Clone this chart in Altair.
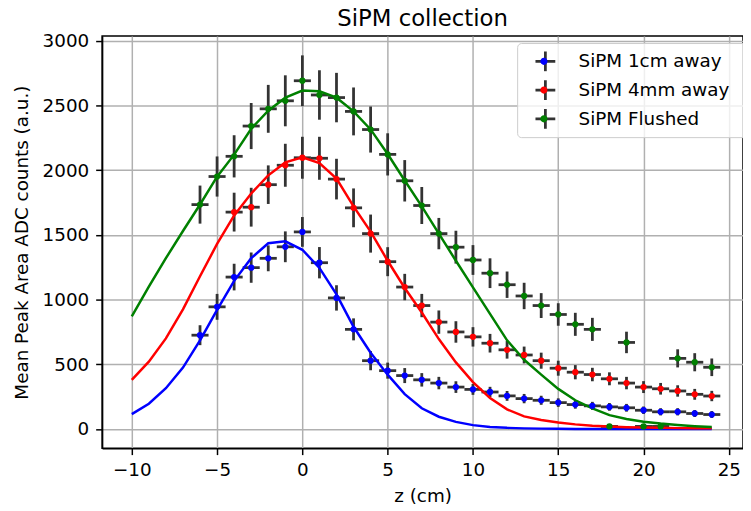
import altair as alt
import pandas as pd

SERIES = ["SiPM 1cm away", "SiPM 4mm away", "SiPM Flushed"]
COLORS = ["#0000ff", "#ff0000", "#008000"]
XERR = 0.5

blue_z = list(range(-6, 25))
blue_v = [725, 944, 1174, 1247, 1319, 1408, 1523, 1285, 1013, 770, 528, 451, 413, 380, 355, 324,
          306, 286, 256, 235, 222, 204, 189, 179, 171, 164, 145, 133, 133, 120, 112]
blue_err = [77, 100, 103, 117, 100, 119, 115, 121, 98, 85, 74, 62, 58, 52, 48, 45,
            42, 40, 38, 36, 35, 33, 32, 31, 30, 30, 29, 28, 28, 27, 27]

red_z = list(range(-4, 25))
red_v = [1676, 1714, 1888, 2038, 2096, 2092, 1931, 1709, 1510, 1293, 1097, 954, 826, 750, 712,
         663, 612, 572, 528, 470, 439, 421, 388, 355, 324, 311, 294, 268, 255]
red_err = [150, 150, 149, 166, 162, 166, 157, 150, 147, 112, 102, 90, 90, 83, 75,
           72, 68, 65, 62, 58, 55, 52, 50, 48, 46, 45, 44, 42, 40]

green_z = list(range(-6, 25))
green_v = [1734, 1951, 2107, 2341, 2474, 2536, 2691, 2581, 2561, 2454, 2314, 2122, 1918, 1727,
           1510, 1405, 1306, 1204, 1115, 1028, 954, 885, 809, 770, 20, 669, 20, 20, 546, 516, 477]
green_err = [147, 155, 163, 178, 185, 197, 196, 191, 191, 185, 178, 163, 160, 143,
             121, 127, 115, 115, 102, 102, 96, 87, 89, 89, 5, 83, 5, 5, 70, 70, 68]

fit_z = list(range(-10, 25))
blue_fit = [115, 195, 315, 475, 685, 920, 1145, 1320, 1435, 1450, 1385, 1245, 1040, 790, 590, 420,
            270, 160, 95, 55, 30, 16, 9, 5, 3, 2, 1, 1, 1, 1, 1, 1, 1, 1, 1]
red_fit = [380, 520, 700, 925, 1180, 1430, 1650, 1820, 1960, 2060, 2100, 2055, 1935, 1720, 1525,
           1300, 1090, 900, 695, 515, 362, 240, 152, 98, 70, 50, 36, 26, 19, 14, 11, 9, 7, 6, 5]
green_fit = [870, 1100, 1320, 1530, 1735, 1950, 2120, 2320, 2460, 2560, 2615, 2610, 2560, 2455,
             2315, 2125, 1920, 1720, 1510, 1300, 1095, 890, 685, 535, 420, 310, 222, 160, 107,
             78, 56, 42, 31, 22, 15]

X_TICKS = [-10, -5, 0, 5, 10, 15, 20, 25]
Y_TICKS = [0, 500, 1000, 1500, 2000, 2500, 3000]

rows = []
for name, zs, vs, es in zip(SERIES, [blue_z, red_z, green_z], [blue_v, red_v, green_v],
                            [blue_err, red_err, green_err]):
    for z, v, e in zip(zs, vs, es):
        rows.append({"series": name, "series2": name, "z": z, "v": v, "lo": v - e, "hi": v + e,
                     "zlo": z - XERR, "zhi": z + XERR})
pts = pd.DataFrame(rows)

fit_rows = []
for name, fv in zip(SERIES, [blue_fit, red_fit, green_fit]):
    for z, v in zip(fit_z, fv):
        fit_rows.append({"series": name, "z": z, "v": v})
fits = pd.DataFrame(fit_rows)

xsc = alt.Scale(domain=[-11.74, 25.83], nice=False, zero=False)
ysc = alt.Scale(domain=[-148, 3036], nice=False, zero=False)
xax = alt.Axis(values=X_TICKS, format="d", labelFlush=False, labelPadding=6, titlePadding=8)
yax = alt.Axis(values=Y_TICKS, format="d", labelPadding=7, titlePadding=11)
XT = "z (cm)"
YT = "Mean Peak Area ADC counts (a.u.)"

PLUS = "M-1,0L1,0M0,-1L0,1"
DOT = "M0.36,0A0.36,0.36,0,1,1,-0.36,0A0.36,0.36,0,1,1,0.36,0Z"
LEG = dict(orient="none", legendX=419, legendY=7, direction="vertical", symbolSize=400,
           labelFont="DejaVu Sans", labelFontSize=18.5, labelLimit=400, rowPadding=8,
           symbolOffset=9, padding=8, clipHeight=21)
plus_leg = alt.Legend(symbolType=PLUS, symbolStrokeWidth=2.8, symbolFillColor="transparent",
                      symbolOpacity=1, labelExpr="''", labelOffset=187,
                      fillColor="rgba(255,255,255,0.8)", strokeColor="#cccccc", cornerRadius=4,
                      zindex=1, **LEG)
dot_leg = alt.Legend(symbolType=DOT, symbolStrokeWidth=0, labelColor="black", labelOffset=25,
                     zindex=2, **LEG)

base = alt.Chart(pts)
vbars = base.mark_rule(strokeWidth=2.8, color="#333333").encode(
    x=alt.X("z:Q", scale=xsc, axis=xax, title=XT),
    y=alt.Y("lo:Q", scale=ysc, axis=yax, title=YT),
    y2="hi:Q",
)
hbars = base.mark_rule(strokeWidth=2.8, color="#333333").encode(
    x=alt.X("zlo:Q", scale=xsc, axis=xax, title=XT),
    x2="zhi:Q",
    y=alt.Y("v:Q", scale=ysc, axis=yax, title=YT),
)
ghost = base.mark_point(shape=PLUS, filled=False, strokeWidth=2.8, opacity=0).encode(
    x=alt.X("z:Q", scale=xsc, axis=xax, title=XT),
    y=alt.Y("v:Q", scale=ysc, axis=yax, title=YT),
    stroke=alt.Stroke("series2:N", scale=alt.Scale(range=["#333333"] * 3), legend=plus_leg,
                      title=None),
)
curves = []
for name, col in zip(SERIES, COLORS):
    curves.append(
        alt.Chart(fits).transform_filter(alt.datum.series == name).mark_line(
            color=col, strokeWidth=2.5).encode(
            x=alt.X("z:Q", scale=xsc, axis=xax, title=XT),
            y=alt.Y("v:Q", scale=ysc, axis=yax, title=YT),
        )
    )
dots = base.mark_point(filled=True, size=40, opacity=1).encode(
    x=alt.X("z:Q", scale=xsc, axis=xax, title=XT),
    y=alt.Y("v:Q", scale=ysc, axis=yax, title=YT),
    color=alt.Color("series:N", scale=alt.Scale(domain=SERIES, range=COLORS), legend=dot_leg,
                    title=None),
)

chart = alt.layer(vbars, hbars, ghost, *curves, dots).properties(
    width=647,
    height=416,
    title=alt.TitleParams("SiPM collection", fontSize=23, font="DejaVu Sans",
                          fontWeight="normal", color="black", anchor="middle",
                          baseline="alphabetic", offset=10, dy=27),
    autosize=alt.AutoSizeParams(type="none"),
    padding={"left": 95, "top": 26, "right": 0, "bottom": 55},
).configure_view(
    stroke="black", strokeWidth=1.5
).configure_axis(
    grid=True, gridColor="#b0b0b0", gridWidth=1.5, domainColor="black", domainWidth=1.5,
    tickColor="black", tickWidth=1.5, tickSize=6.5, labelFont="DejaVu Sans",
    labelFontSize=18.5, labelColor="black", titleFont="DejaVu Sans", titleFontSize=18.5,
    titleFontWeight="normal", titleColor="black",
)

chart.save("out.html", embed_options={"renderer": "svg", "actions": False})
